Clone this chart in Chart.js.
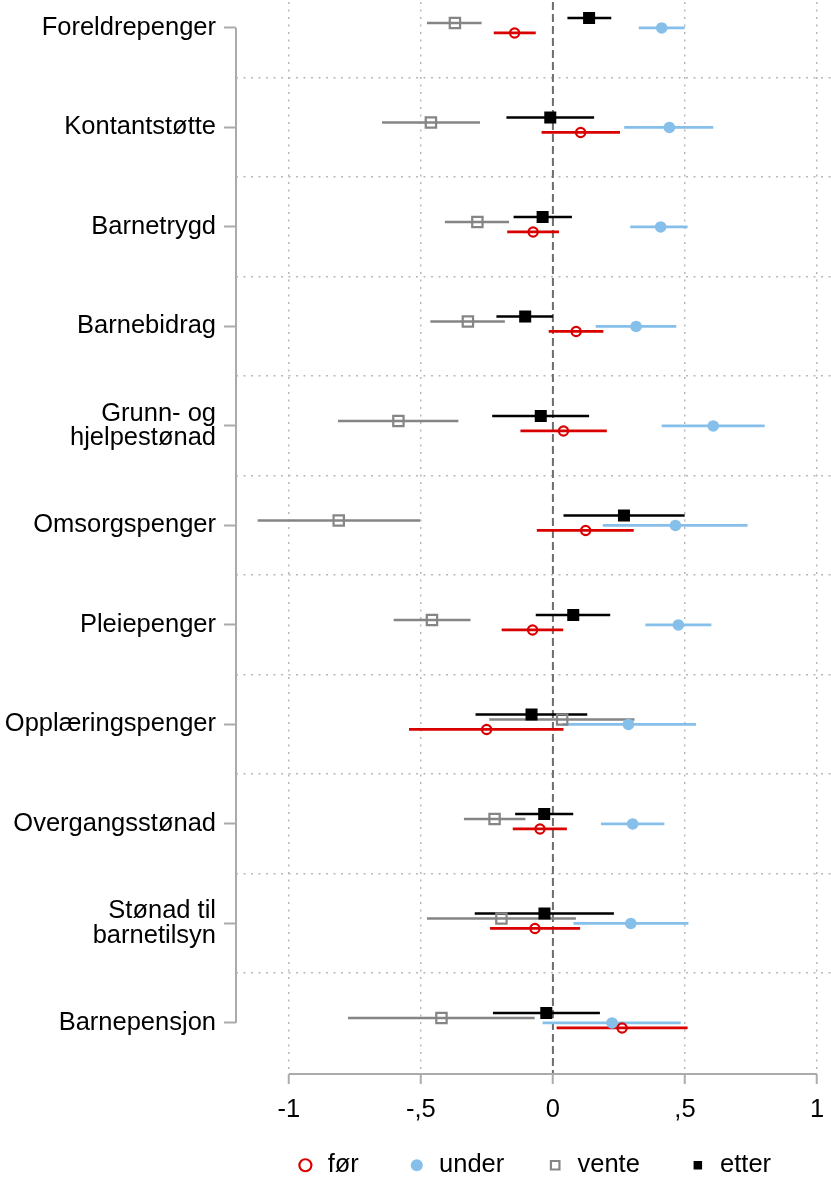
<!DOCTYPE html>
<html>
<head>
<meta charset="utf-8">
<script src="https://cdn.jsdelivr.net/npm/chart.js@4.4.1/dist/chart.umd.min.js"></script>
<style>
  html, body { margin: 0; padding: 0; background: #fff; }
  #wrap { width: 831px; height: 1188px; position: relative; }
</style>
</head>
<body>
<div id="wrap"><canvas id="coefChart"></canvas></div>
<script>
const categories = ['Foreldrepenger', 'Kontantstøtte', 'Barnetrygd', 'Barnebidrag',
    ['Grunn- og', 'hjelpestønad'], 'Omsorgspenger', 'Pleiepenger', 'Opplæringspenger',
    'Overgangsstønad', ['Stønad til', 'barnetilsyn'], 'Barnepensjon'];

const xTicks = [-1, -0.5, 0, 0.5, 1];
const xTickLabels = ['-1', '-,5', '0', ',5', '1'];

// før
const forEst = [-0.145, 0.105, -0.075, 0.088, 0.040, 0.124, -0.077, -0.251, -0.049, -0.068, 0.262];
const forLo  = [-0.224, -0.043, -0.173, -0.016, -0.123, -0.061, -0.194, -0.545, -0.152, -0.238, 0.014];
const forHi  = [-0.065, 0.254, 0.023, 0.191, 0.204, 0.306, 0.039, 0.040, 0.053, 0.103, 0.510];
// under
const underEst = [0.412, 0.441, 0.408, 0.315, 0.607, 0.464, 0.475, 0.286, 0.302, 0.295, 0.224];
const underLo  = [0.325, 0.270, 0.293, 0.162, 0.412, 0.189, 0.350, 0.036, 0.182, 0.078, -0.039];
const underHi  = [0.499, 0.607, 0.510, 0.467, 0.802, 0.737, 0.600, 0.542, 0.422, 0.513, 0.484];
// vente
const venteEst = [-0.371, -0.462, -0.286, -0.322, -0.585, -0.811, -0.458, 0.035, -0.221, -0.195, -0.422];
const venteLo  = [-0.477, -0.647, -0.409, -0.464, -0.814, -1.118, -0.603, -0.241, -0.337, -0.477, -0.776];
const venteHi  = [-0.270, -0.276, -0.166, -0.182, -0.358, -0.503, -0.312, 0.309, -0.104, 0.087, -0.069];
// etter
const etterEst = [0.137, -0.010, -0.039, -0.105, -0.046, 0.269, 0.077, -0.081, -0.033, -0.032, -0.025];
const etterLo  = [0.055, -0.176, -0.149, -0.214, -0.230, 0.040, -0.065, -0.293, -0.143, -0.296, -0.227];
const etterHi  = [0.221, 0.156, 0.072, 0.000, 0.137, 0.499, 0.217, 0.130, 0.077, 0.231, 0.178];

const FONT = '"Liberation Sans", Arial, sans-serif';
const AXIS_GREY = '#ababab';

function points(est, off) {
    return est.map((v, i) => ({x: v, y: i + off}));
}

function ciSegments(lo, hi, off) {
    const out = [];
    lo.forEach((l, i) => {
        out.push({x: l, y: i + off}, {x: hi[i], y: i + off}, {x: null, y: null});
    });
    return out;
}

function ciDataset(lo, hi, off, color) {
    return {
        type: 'line', label: 'ci', data: ciSegments(lo, hi, off),
        borderColor: color, borderWidth: 2.7, pointRadius: 0,
        spanGaps: false, fill: false, order: 2
    };
}

const series = [
    {label: 'før', est: forEst, lo: forLo, hi: forHi, off: 0.05, color: '#d90000',
        pointStyle: 'circle', radius: 4.6, fillCol: 'rgba(0,0,0,0)', bw: 2.2},
    {label: 'under', est: underEst, lo: underLo, hi: underHi, off: 0, color: '#85bfea',
        pointStyle: 'circle', radius: 5.8, fillCol: '#85bfea', bw: 0},
    {label: 'vente', est: venteEst, lo: venteLo, hi: venteHi, off: -0.05, color: '#858585',
        pointStyle: 'rect', radius: 7.3, fillCol: 'rgba(0,0,0,0)', bw: 2.2},
    {label: 'etter', est: etterEst, lo: etterLo, hi: etterHi, off: -0.1, color: '#000000',
        pointStyle: 'rect', radius: 8.5, fillCol: '#000000', bw: 0}
];

const datasets = [];
series.forEach(s => {
    datasets.push({
        type: 'scatter', label: s.label, data: points(s.est, s.off),
        pointStyle: s.pointStyle, pointRadius: s.radius, pointHoverRadius: s.radius,
        pointBackgroundColor: s.fillCol, pointBorderColor: s.color, pointBorderWidth: s.bw,
        backgroundColor: s.fillCol, borderColor: s.color, borderWidth: s.bw,
        showLine: false, order: 1
    });
});
series.forEach(s => datasets.push(ciDataset(s.lo, s.hi, s.off, s.color)));

// axis lines that only span the tick range, plus the dashed zero line
const axisDecor = {
    id: 'axisDecor',
    beforeDatasetsDraw(chart) {
        const {ctx, chartArea, scales: {x, y}} = chart;
        ctx.save();
        ctx.strokeStyle = '#6e6e6e';
        ctx.lineWidth = 2;
        ctx.setLineDash([8, 4]);
        const x0 = x.getPixelForValue(0);
        ctx.beginPath();
        ctx.moveTo(x0, chartArea.top);
        ctx.lineTo(x0, chartArea.bottom);
        ctx.stroke();
        ctx.setLineDash([]);
        ctx.strokeStyle = AXIS_GREY;
        ctx.beginPath();
        ctx.moveTo(x.getPixelForValue(xTicks[0]), chartArea.bottom);
        ctx.lineTo(x.getPixelForValue(xTicks[xTicks.length - 1]), chartArea.bottom);
        ctx.stroke();
        ctx.beginPath();
        ctx.moveTo(chartArea.left, y.getPixelForValue(0));
        ctx.lineTo(chartArea.left, y.getPixelForValue(categories.length - 1));
        ctx.stroke();
        ctx.restore();
    }
};

// extra room after each legend entry (legend padding would also pad vertically)
const legendGaps = ['      ', '     ', '      ', ''];

const ctx = document.getElementById('coefChart').getContext('2d');
new Chart(ctx, {
    data: {datasets: datasets},
    plugins: [axisDecor],
    options: {
        responsive: true,
        maintainAspectRatio: false,
        animation: false,
        layout: {autoPadding: false, padding: {top: 2, right: 0, bottom: 0, left: 0}},
        scales: {
            x: {
                type: 'linear', min: -1.2, max: 1.053,
                afterBuildTicks: s => { s.ticks = xTicks.map(v => ({value: v})); },
                afterFit: s => { s.height = 72.5; s.paddingLeft = 0; s.paddingRight = 0; },
                ticks: {
                    color: '#000', padding: 11,
                    font: {family: FONT, size: 25.5},
                    callback: v => xTickLabels[xTicks.indexOf(v)]
                },
                grid: {
                    color: c => (c.tick && c.tick.value === 0) ? 'rgba(0,0,0,0)' : '#b8b8b8',
                    lineWidth: 1.5, tickColor: AXIS_GREY, tickWidth: 2, tickLength: 10
                },
                border: {display: false, dash: [2, 5.5]}
            },
            y: {
                type: 'linear', reverse: true, min: -0.261, max: 10.513,
                afterBuildTicks: s => { s.ticks = categories.map((c, i) => ({value: i})); },
                afterFit: s => { s.width = 236; s.paddingTop = 0; s.paddingBottom = 0; },
                ticks: {
                    color: '#000', padding: 8,
                    font: {family: FONT, size: 25.5, lineHeight: 0.98},
                    callback: v => categories[v]
                },
                grid: {drawOnChartArea: false, tickColor: AXIS_GREY, tickWidth: 2, tickLength: 12},
                border: {display: false}
            },
            yg: {
                type: 'linear', position: 'right', reverse: true, min: -0.261, max: 10.513,
                afterBuildTicks: s => { s.ticks = categories.slice(1).map((c, i) => ({value: i + 0.5})); },
                afterFit: s => { s.width = 0; s.paddingTop = 0; s.paddingBottom = 0; },
                ticks: {display: false},
                grid: {color: '#b8b8b8', lineWidth: 1.5, drawTicks: false},
                border: {display: false, dash: [2, 5.5]}
            }
        },
        plugins: {
            tooltip: {enabled: false},
            legend: {
                position: 'bottom',
                fullSize: false,
                labels: {
                    usePointStyle: true,
                    boxWidth: 19, boxHeight: 8.5,
                    padding: 6,
                    color: '#000',
                    font: {family: FONT, size: 25.5},
                    generateLabels: chart => Chart.defaults.plugins.legend.labels.generateLabels(chart)
                        .filter(item => item.text !== 'ci')
                        .map((item, i) => {
                            item.text = item.text + legendGaps[i];
                            return item;
                        })
                }
            }
        }
    }
});
</script>
</body>
</html>
